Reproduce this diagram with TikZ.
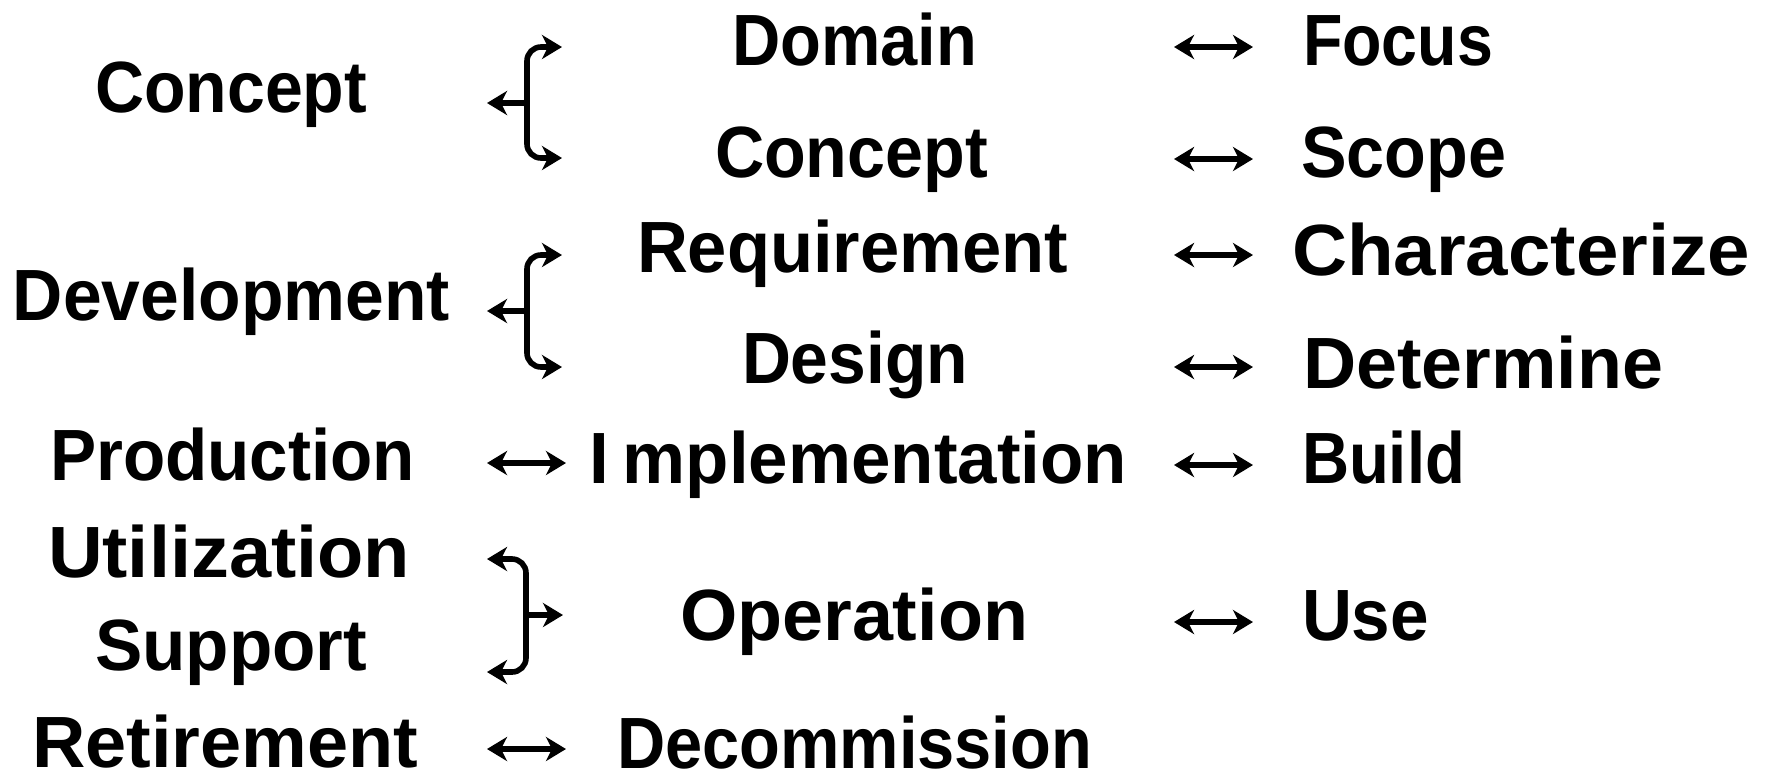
\documentclass[tikz,border=0pt]{standalone}
\usepackage{fontspec}
\setmainfont{Liberation Sans}
\usepackage{graphicx}
\usetikzlibrary{arrows.meta}
\newcommand{\fitw}[2]{\resizebox{#1}{\height}{#2}}
\tikzset{
  lbl/.style={inner sep=0pt, outer sep=0pt, anchor=base west,
    font=\bfseries\fontsize{36.3}{40}\selectfont},
  conn/.style={line width=2.8pt, line cap=butt,
    arrows={-Stealth[length=10pt,width=12pt,inset=3pt]}},
  dbl/.style={line width=2.8pt,
    arrows={Stealth[length=10pt,width=12pt,inset=3pt]-Stealth[length=10pt,width=12pt,inset=3pt]}},
  brc/.style={line width=2.8pt, rounded corners=7pt}
}
\begin{document}
\begin{tikzpicture}[x=0.5pt,y=-0.5pt]
\useasboundingbox (0,0) rectangle (1767,778);
% left column
\node[lbl] (cL)   at (95,112)  {\fitw{136pt}{Concept}};
\node[lbl] (dev)  at (13,320)  {\fitw{218.5pt}{Development}};
\node[lbl] (prod) at (50,480)  {\fitw{182.5pt}{Production}};
\node[lbl] (util) at (48,577)  {\fitw{181pt}{Utilization}};
\node[lbl] (supp) at (95,670)  {\fitw{136pt}{Support}};
\node[lbl] (ret)  at (32,767)  {\fitw{193pt}{Retirement}};
% middle column
\node[lbl] (dom)   at (732,65)  {\fitw{122.5pt}{Domain}};
\node[lbl] (conM)  at (715,177) {\fitw{136.5pt}{Concept}};
\node[lbl] (req)   at (637,272) {\fitw{215.5pt}{Requirement}};
\node[lbl] (des)   at (742,383) {\fitw{113pt}{Design}};
\node[lbl] (impl)  at (589,483) {\fitw{269pt}{I\kern0.2em mplementation}};
\node[lbl] (oper)  at (680,640) {\fitw{174pt}{Operation}};
\node[lbl] (decom) at (617,768) {\fitw{237.5pt}{Decommission}};
% right column
\node[lbl] (foc)   at (1303,65)  {\fitw{95pt}{Focus}};
\node[lbl] (scope) at (1301,177) {\fitw{102.5pt}{Scope}};
\node[lbl] (char)  at (1292,275) {\fitw{229pt}{Characterize}};
\node[lbl] (det)   at (1303,388) {\fitw{180pt}{Determine}};
\node[lbl] (build) at (1302,483) {\fitw{81.5pt}{Build}};
\node[lbl] (use)   at (1302,640) {\fitw{63.5pt}{Use}};
% middle-right double arrows
\foreach \n/\y in {1/47,2/159,3/255,4/367,5/465,6/622}{
  \coordinate (ra\n) at (1174,\y);
  \coordinate (rb\n) at (1253,\y);
  \draw[dbl] (ra\n) -- (rb\n);
}
% left double arrows
\coordinate (pa) at (487,463); \coordinate (pb) at (566,463);
\draw[dbl] (pa) -- (pb);
\coordinate (qa) at (487,749); \coordinate (qb) at (566,749);
\draw[dbl] (qa) -- (qb);
% braces opening to the right (Concept, Development)
\foreach \t/\m/\b/\nm in {47/103/158/one, 255/311/367/two}{
  \coordinate (\nm L) at (487,\m);
  \coordinate (\nm T) at (562,\t);
  \coordinate (\nm B) at (562,\b);
  \coordinate (\nm J) at (516,\m);
  \draw[brc, conn] (\nm J) .. controls (527,\m) .. (527,\m-11) -- (527,\t) -- (\nm T);
  \draw[brc, conn] (\nm J) .. controls (527,\m) .. (527,\m+11) -- (527,\b) -- (\nm B);
  \draw[conn] (\nm J) -- (\nm L);
}
% brace opening to the left (Operation)
\coordinate (thT) at (487,559);
\coordinate (thB) at (487,672);
\coordinate (thR) at (563,615);
\coordinate (thJ) at (537,615);
\draw[brc, conn] (thJ) .. controls (526,615) .. (526,604) -- (526,559) -- (thT);
\draw[brc, conn] (thJ) .. controls (526,615) .. (526,626) -- (526,672) -- (thB);
\draw[conn] (thJ) -- (thR);
\end{tikzpicture}
\end{document}
